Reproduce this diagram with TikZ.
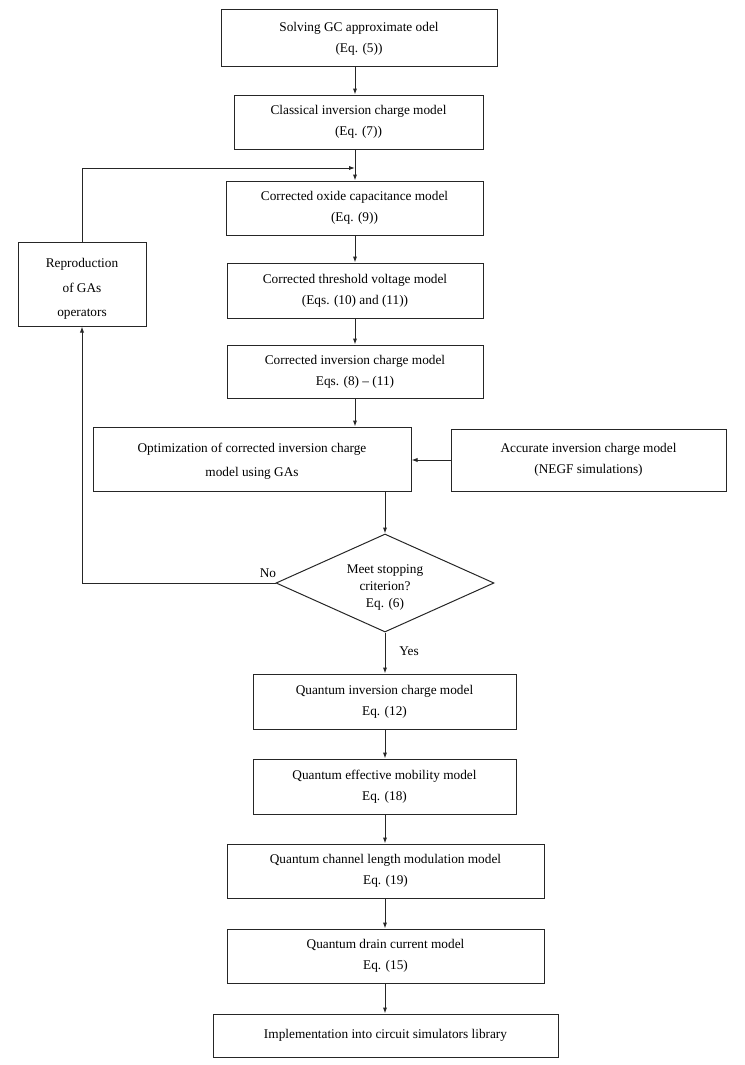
\documentclass[tikz,border=0pt]{standalone}
\usepackage{fontspec}
\setmainfont{Liberation Serif}
\usetikzlibrary{shapes.geometric,arrows.meta}
\begin{document}
\begin{tikzpicture}[x=1pt,y=-1pt,
  box/.style={draw=black!85, line width=1pt, inner sep=0pt, align=center,
    font=\fontsize{13.3}{21}\selectfont},
  arr/.style={draw=black!85, line width=1pt, -{Latex[length=6pt,width=4.2pt]}},
  ln/.style={draw=black!85, line width=1pt},
  lbl/.style={font=\fontsize{13.3}{16}\selectfont, inner sep=0pt}]
\useasboundingbox (0,0) rectangle (744,1065);
\coordinate (col) at (355,0);
\coordinate (fb) at (355,168);
\node[box, minimum width=276, minimum height=57] (b1) at (359,38.5) {Solving GC approximate odel\\(Eq. (5))};
\node[box, minimum width=249, minimum height=54] (b2) at (358.5,122) {Classical inversion charge model\\(Eq. (7))};
\node[box, minimum width=257, minimum height=54] (b3) at (354.5,208) {Corrected oxide capacitance model\\(Eq. (9))};
\node[box, minimum width=256, minimum height=55] (b4) at (355,290.5) {Corrected threshold voltage model\\(Eqs. (10) and (11))};
\node[box, minimum width=256, minimum height=53] (b5) at (355,371.5) {Corrected inversion charge model\\Eqs. (8) -- (11)};
\node[box, minimum width=318, minimum height=64, font=\fontsize{13.3}{24}\selectfont] (opt) at (252,459) {\rule{0pt}{13pt}Optimization of corrected inversion charge\\model using GAs};
\node[box, minimum width=275, minimum height=62] (acc) at (588.5,460) {Accurate inversion charge model\\(NEGF simulations)};
\node[box, minimum width=128, minimum height=84, font=\fontsize{13.3}{24.5}\selectfont] (rep) at (82,284) {\rule{0pt}{19pt}Reproduction\\of GAs\\operators};
\node[draw=black!85, line width=1pt, diamond, inner sep=0pt, minimum width=218, minimum height=98] (d) at (385,583) {};
\node[lbl, align=center, font=\fontsize{13.3}{17}\selectfont] (dt) at (385,588) {Meet stopping\\criterion?\\Eq. (6)};
\node[box, minimum width=263, minimum height=55] (q1) at (384.5,701.5) {Quantum inversion charge model\\Eq. (12)};
\node[box, minimum width=263, minimum height=55] (q2) at (384.5,786.5) {Quantum effective mobility model\\Eq. (18)};
\node[box, minimum width=317, minimum height=54] (q3) at (385.5,871) {Quantum channel length modulation model\\Eq. (19)};
\node[box, minimum width=317, minimum height=54] (q4) at (385.5,956) {Quantum drain current model\\Eq. (15)};
\node[box, minimum width=345, minimum height=43] (q5) at (385.5,1035.5) {Implementation into circuit simulators library};
% main column arrows
\draw[arr] (b1.south -| col) -- (b2.north -| col);
\draw[ln] (b2.south -| col) -- (fb);
\draw[arr] (fb) -- (b3.north -| col);
\draw[arr] (b3.south -| col) -- (b4.north -| col);
\draw[arr] (b4.south -| col) -- (b5.north -| col);
\draw[arr] (b5.south -| col) -- (opt.north -| col);
\draw[arr] (acc.west) -- (acc.west -| opt.east);
\draw[arr] (opt.south -| d.north) -- (d.north);
% feedback
\draw[arr] (d.west) -| (rep.south);
\draw[arr] (rep.north) |- (fb);
\node[lbl] (no) at (268,573) {No};
% lower column
\draw[arr] (d.south) -- (q1.north -| d.south);
\node[lbl] (yes) at (409,651) {Yes};
\draw[arr] (q1.south -| d.south) -- (q2.north -| d.south);
\draw[arr] (q2.south -| d.south) -- (q3.north -| d.south);
\draw[arr] (q3.south -| d.south) -- (q4.north -| d.south);
\draw[arr] (q4.south -| d.south) -- (q5.north -| d.south);
\end{tikzpicture}
\end{document}
